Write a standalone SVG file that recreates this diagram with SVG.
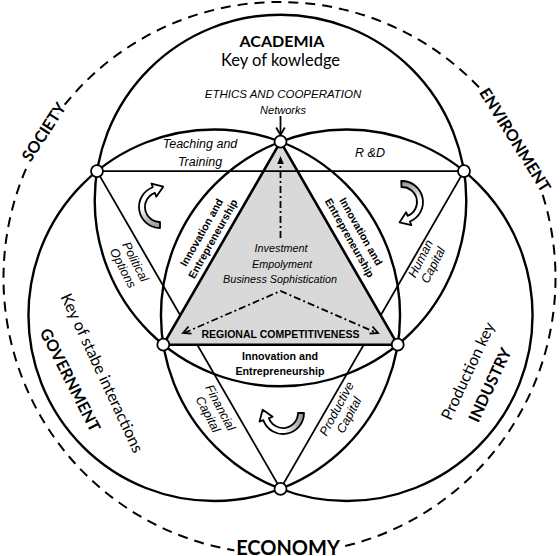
<svg xmlns="http://www.w3.org/2000/svg" width="560" height="556" viewBox="0 0 560 556">
<defs>
<linearGradient id="cg" x1="0" y1="0" x2="0" y2="1"><stop offset="0.55" stop-color="#fff"/><stop offset="1" stop-color="#8f8f8f"/></linearGradient>
<path id="carrow" d="M 0,21 A 21 21 0 0 1 -7.18,-19.73 L -8.55,-23.49 L 3.24,-20.33 L -3.76,-10.34 L -5.13,-14.10 A 15 15 0 0 0 0,15 Z" fill="url(#cg)" stroke="#000" stroke-width="1.8" stroke-linejoin="round"/>
</defs>
<style>
.c{fill:none;stroke:#000;stroke-width:2.4}
.ln{stroke:#000;stroke-width:1.8;fill:none}
.dd{stroke:#000;stroke-width:1.8;fill:none;stroke-dasharray:7 3 2 3}
.node{fill:#fff;stroke:#000;stroke-width:1.8}
.it{font-family:"Liberation Sans",Arial,sans-serif;font-style:italic;fill:#000;text-anchor:middle}
.b{font-family:"Liberation Sans",Arial,sans-serif;font-weight:bold;fill:#000;text-anchor:middle}
.big{font-family:Lato,"Open Sans",sans-serif;fill:#000;text-anchor:middle}
.bb{font-family:Lato,"Open Sans",sans-serif;font-weight:bold;fill:#000;text-anchor:middle}
.halo{paint-order:stroke;stroke:#fff;stroke-width:7;stroke-linejoin:round}
</style>
<rect width="560" height="556" fill="#fff"/>

<g id="outer-ring">
<circle cx="279.5" cy="278" r="276" fill="none" stroke="#000" stroke-width="2" stroke-dasharray="10 7"/>
</g>

<g id="circles">
<circle id="academia-circle" class="c" cx="280.5" cy="200.5" r="185.8"/>
<circle id="government-circle" class="c" cx="214.25" cy="315.25" r="185.8"/>
<circle id="industry-circle" class="c" cx="346.75" cy="315.25" r="185.8"/>
</g>

<g id="connectors">
<line class="ln" x1="97" y1="171.1" x2="280.5" y2="488.9"/>
<line class="ln" x1="464" y1="171.1" x2="280.5" y2="488.9"/>
</g>

<g id="competitiveness-triangle">
<polygon points="280.5,141.7 163.3,344.7 397.7,344.7" fill="#d9d9d9" stroke="#000" stroke-width="2.6" stroke-linejoin="round"/>
</g>

<g id="connectors-top">
<line class="ln" x1="97" y1="171.1" x2="464" y2="171.1"/>
<line class="ln" x1="280.5" y1="116" x2="280.5" y2="135"/>
<polyline class="ln" points="276.2,127.5 280.5,135 284.8,127.5"/>
<line class="dd" x1="280.5" y1="238" x2="280.5" y2="163"/>
<polygon points="280.5,156 277.2,164 283.8,164" fill="#000"/>
<polyline class="dd" points="184,333 280.5,291 377,333"/>
<polyline class="ln" points="188.5,326.5 183,333 191.5,333.6"/>
<polyline class="ln" points="372.5,326.5 378,333 369.5,333.6"/>
</g>

<g id="cycle-arrows">
<use href="#carrow" transform="translate(160,207)"/>
<use href="#carrow" transform="translate(402,202) rotate(178)"/>
<use href="#carrow" transform="translate(283,413) rotate(-90)"/>
</g>

<g id="nodes">
<circle class="node" cx="280.5" cy="141.7" r="6"/>
<circle class="node" cx="163.3" cy="344.7" r="6"/>
<circle class="node" cx="397.7" cy="344.7" r="6"/>
<circle class="node" cx="97" cy="171.1" r="6"/>
<circle class="node" cx="464" cy="171.1" r="6"/>
<circle class="node" cx="280.5" cy="488.9" r="6"/>
</g>

<g id="labels">
<text class="bb" x="282" y="47" font-size="16">ACADEMIA</text>
<text class="big" x="280.5" y="66" font-size="16.5">Key of kowledge</text>
<text class="it" x="283" y="98" font-size="11.5">ETHICS AND COOPERATION</text>
<text class="it" x="283" y="114" font-size="11">Networks</text>
<text class="it" x="200" y="148" font-size="12.5">Teaching and</text>
<text class="it" x="200" y="166" font-size="12.5">Training</text>
<text class="it" x="370" y="157" font-size="12.5">R &amp;D</text>
<text class="it" x="281" y="252" font-size="10.8">Investment</text>
<text class="it" x="282" y="268" font-size="10.8">Empolyment</text>
<text class="it" x="280" y="283" font-size="10.8">Business Sophistication</text>
<text class="b" x="280.5" y="338" font-size="10.5">REGIONAL COMPETITIVENESS</text>
<text class="b" x="280" y="360" font-size="10.7">Innovation and</text>
<text class="b" x="280" y="375" font-size="10.7">Entrepreneurship</text>
<g transform="translate(207,235.5) rotate(-60.5)">
<text class="b" y="-2.5" font-size="10.7">Innovation and</text>
<text class="b" y="10.5" font-size="10.7">Entrepreneurship</text>
</g>
<g transform="translate(355.5,234.5) rotate(60.5)">
<text class="b" y="-2.5" font-size="10.7">Innovation and</text>
<text class="b" y="10.5" font-size="10.7">Entrepreneurship</text>
</g>
<g transform="translate(129,265) rotate(63)">
<text class="it" y="-3" font-size="12.5">Political</text>
<text class="it" y="11" font-size="12.5">Options</text>
</g>
<g transform="translate(427,262) rotate(-63)">
<text class="it" y="-3" font-size="12.5">Human</text>
<text class="it" y="11" font-size="12.5">Capital</text>
</g>
<g transform="translate(214,411) rotate(62)">
<text class="it" y="-3" font-size="12.5">Financial</text>
<text class="it" y="11" font-size="12.5">Capital</text>
</g>
<g transform="translate(343,412) rotate(-62)">
<text class="it" y="-3" font-size="12.5">Productive</text>
<text class="it" y="11" font-size="12.5">Capital</text>
</g>
<text class="bb halo" font-size="16" transform="translate(44,132) rotate(-57)" y="5.5">SOCIETY</text>
<text class="bb halo" font-size="16" transform="translate(515,140) rotate(58)" y="5.5">ENVIRONMENT</text>
<text class="bb" font-size="16" transform="translate(70,380) rotate(63)" y="5.5">GOVERNMENT</text>
<text class="big" font-size="16" transform="translate(102,373) rotate(65)" y="5.5">Key of stabe interactions</text>
<text class="big" font-size="16" transform="translate(468,371) rotate(-65)" y="5.5">Production key</text>
<text class="bb" font-size="16" transform="translate(490,385) rotate(-65)" y="5.5">INDUSTRY</text>
<text class="bb halo" x="288" y="555" font-size="20">ECONOMY</text>
</g>
</svg>
